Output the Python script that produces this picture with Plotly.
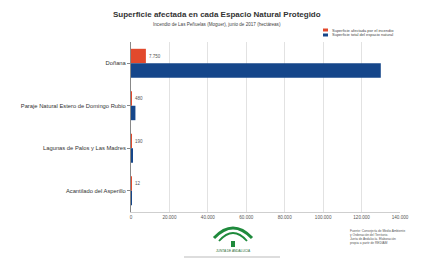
import plotly.graph_objects as go

# ---- data ----
categories = [
    "Doñana",
    "Paraje Natural Estero de Domingo Rubio",
    "Lagunas de Palos y Las Madres",
    "Acantilado del Asperillo",
]
afectada = [7750, 480, 190, 12]
total = [130000, 2300, 900, 14]
tick_vals = [0, 20000, 40000, 60000, 80000, 100000, 120000, 140000]

title_text = "Superficie afectada en cada Espacio Natural Protegido"
subtitle_text = "Incendio de Las Peñuelas (Moguer), junio de 2017 (hectáreas)"
legend_names = ["Superficie afectada por el incendio", "Superficie total del espacio natural"]
source_text = ("Fuente: Consejería de Medio Ambiente<br>y Ordenación del Territorio.<br>"
               "Junta de Andalucía. Elaboración<br>propia a partir de REDIAM")

W, H = 430, 260
L, R, T, B = 131, 30, 42, 48
pw, ph = W - L - R, H - T - B

def px(x):
    return (x - L) / pw

def py(y):
    return (H - B - y) / ph

RED = "#e2492c"
BLUE = "#15468a"
COLORS = [RED, BLUE]

fig = go.Figure()
fig.add_trace(go.Bar(
    y=categories, x=afectada, orientation="h", name=legend_names[0],
    marker=dict(color=RED, line=dict(width=0)),
    text=[f"{v:,}".replace(",", ".") for v in afectada],
    textposition="outside", textfont=dict(size=4.5, color="#555"),
    cliponaxis=False,
))
fig.add_trace(go.Bar(
    y=categories, x=total, orientation="h", name=legend_names[1],
    marker=dict(color=BLUE, line=dict(width=0)),
))

fig.update_layout(
    width=W, height=H,
    margin=dict(l=L, r=R, t=T, b=B, pad=0, autoexpand=False),
    paper_bgcolor="white", plot_bgcolor="white",
    barmode="group", bargap=0.32, bargroupgap=0,
    separators=",.",
    font=dict(family="Liberation Sans, Arial, sans-serif", size=5, color="#333"),
    showlegend=False,
    uniformtext=dict(minsize=4, mode="show"),
)
fig.update_xaxes(
    range=[0, 140000], tickvals=tick_vals, tickformat=",d", automargin=False,
    showgrid=True, gridcolor="#e2e2e2", gridwidth=1,
    showline=True, linecolor="#cfcfcf", linewidth=1,
    tickfont=dict(size=4.6, color="#555"), zeroline=False, ticks="", ticklen=0,
)
fig.update_yaxes(
    autorange="reversed", showgrid=False, automargin=False,
    showline=True, linecolor="#888", linewidth=1,
    ticks="outside", ticklen=3, tickcolor="#888",
    tickfont=dict(size=5.8, color="#333"),
)

# titles
fig.add_annotation(text="<b>" + title_text + "</b>", xref="paper", yref="paper",
                   x=px(217), y=py(15), showarrow=False,
                   font=dict(size=8, color="#333"), xanchor="center", yanchor="middle")
fig.add_annotation(text=subtitle_text, xref="paper", yref="paper",
                   x=px(217), y=py(25), showarrow=False,
                   font=dict(size=4.6, color="#444"), xanchor="center", yanchor="middle")

# manual legend (small swatches)
for i, (name, col) in enumerate(zip(legend_names, COLORS)):
    yc = 30 + i * 5
    fig.add_shape(type="rect", xref="paper", yref="paper",
                  x0=px(323), x1=px(328), y0=py(yc + 1.5), y1=py(yc - 1.5),
                  fillcolor=col, line=dict(width=0))
    fig.add_annotation(text=name, xref="paper", yref="paper",
                       x=px(330), y=py(yc), showarrow=False,
                       font=dict(size=4, color="#444"), xanchor="left", yanchor="middle")

# source
fig.add_annotation(text=source_text, xref="paper", yref="paper",
                   x=px(348), y=py(227), showarrow=False, align="left",
                   font=dict(size=3.2, color="#555"), xanchor="left", yanchor="top")

# Junta de Andalucía logo (decoration)
def arc(x0, x1, ybase, ypeak, w, col):
    cx = (x0 + x1) / 2
    path = (f"M {px(x0)},{py(ybase)} Q {px(cx)},{py(2*ypeak - ybase)} {px(x1)},{py(ybase)}")
    fig.add_shape(type="path", path=path, xref="paper", yref="paper",
                  line=dict(color=col, width=w))

arc(214, 252, 238, 228, 3, "#1f8a3c")
arc(219, 247, 241, 233, 1.8, "#1f8a3c")
fig.add_shape(type="rect", xref="paper", yref="paper",
              x0=px(231), x1=px(235), y0=py(247), y1=py(241),
              fillcolor="#1f8a3c", line=dict(width=0))
fig.add_annotation(text="JUNTA DE ANDALUCIA", xref="paper", yref="paper",
                   x=px(233), y=py(251), showarrow=False,
                   font=dict(size=3.2, color="#1f6a30"), xanchor="center", yanchor="middle")
fig.add_shape(type="line", xref="paper", yref="paper",
              x0=px(184), x1=px(280), y0=py(257), y1=py(257),
              line=dict(color="#bbbbbb", width=1))

fig.write_html("out.html", config={"displayModeBar": False},
               post_script="document.body.style.margin='0';")
